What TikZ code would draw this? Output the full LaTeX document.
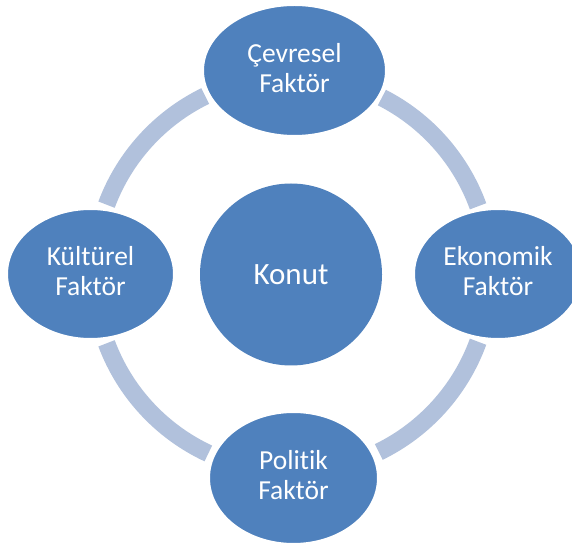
\documentclass[tikz,border=0pt]{standalone}
\usepackage{fontspec}
\setmainfont{Carlito}[Ligatures=NoCommon]
\usetikzlibrary{shapes.geometric}
\definecolor{nodeblue}{HTML}{4F81BD}
\definecolor{ringblue}{HTML}{B1C1DC}
\tikzset{
  factor/.style={ellipse, fill=nodeblue, draw=white, line width=2pt, inner sep=0pt},
  factortext/.style={text=white, align=center, inner sep=0pt,
    font=\fontsize{27.5}{30}\selectfont, yshift=2.5pt},
  ringarc/.style={draw=ringblue, line width=17.5pt, line cap=butt},
}
\begin{document}
\begin{tikzpicture}[x=1pt,y=1pt]
\clip (0,0) rectangle (572,546);
\fill[white] (0,0) rectangle (572,546);
\coordinate (c) at (292,272);
% ring arcs
\draw[ringarc] ([shift={(20:198)}]c) arc (20:63:198);
\draw[ringarc] ([shift={(116:198)}]c) arc (116:159.5:198);
\draw[ringarc] ([shift={(200.5:198)}]c) arc (200.5:245:198);
\draw[ringarc] ([shift={(296:198)}]c) arc (296:340:198);
% centre
\node[circle, fill=nodeblue, minimum size=182pt, inner sep=0pt, text=white,
      font=\fontsize{31}{34}\selectfont] (konut) at (291,271.5) {Konut};
% factors
\node[factor, minimum width=183pt, minimum height=131pt] (top) at (294.5,475.5) {};
\node[factor, minimum width=167pt, minimum height=130pt] (left) at (90.5,272) {};
\node[factor, minimum width=168pt, minimum height=130pt] (right) at (498,272) {};
\node[factor, minimum width=169pt, minimum height=132pt] (bottom) at (293.5,68) {};
\node[factortext] (toptext) at (top.center) {Çevresel\\Faktör};
\node[factortext] (lefttext) at (left.center) {Kültürel\\Faktör};
\node[factortext] (righttext) at (right.center) {Ekonomik\\Faktör};
\node[factortext] (bottomtext) at (bottom.center) {Politik\\Faktör};
\end{tikzpicture}
\end{document}
